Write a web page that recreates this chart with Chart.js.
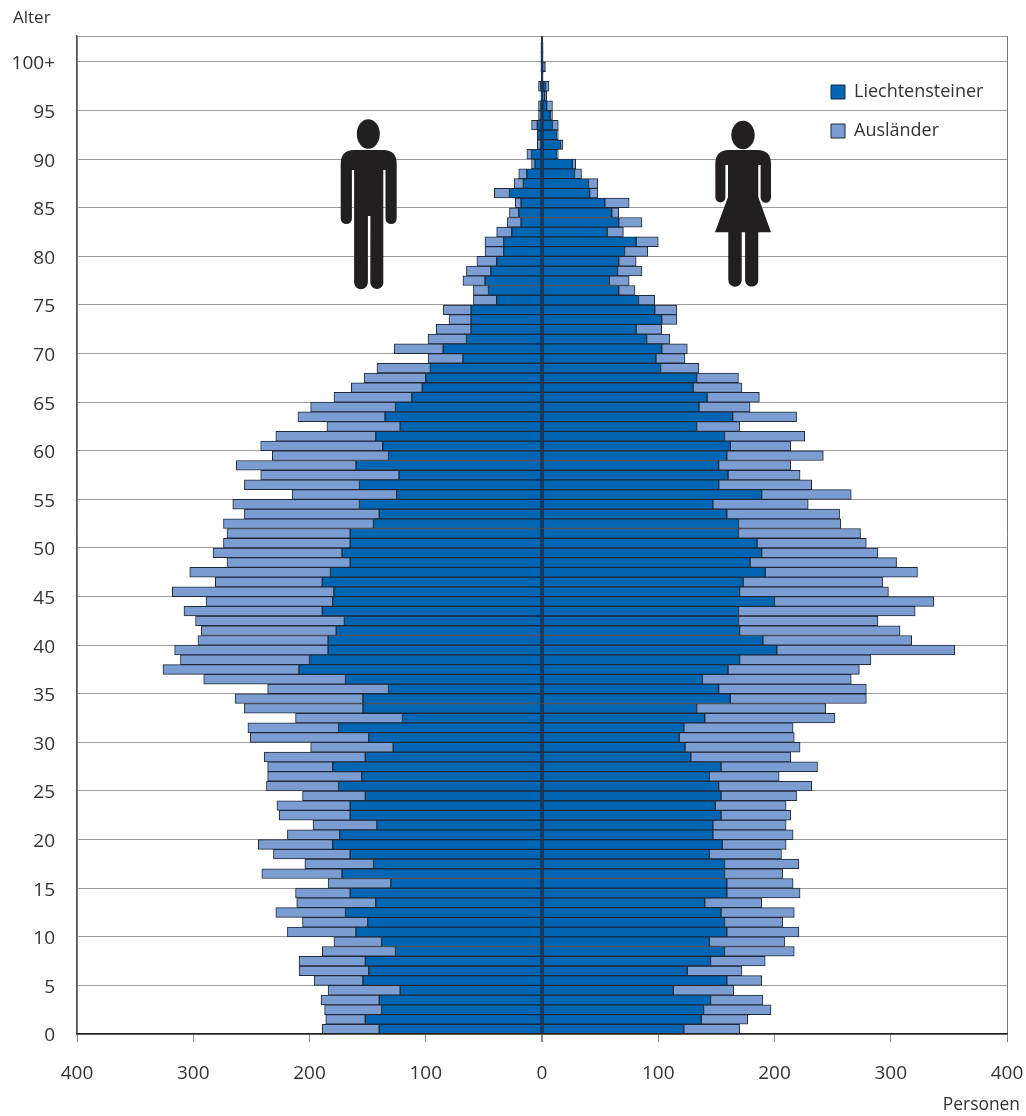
<!DOCTYPE html>
<html lang="de">
<head>
<meta charset="utf-8">
<title>Alterspyramide</title>
<script src="https://cdn.jsdelivr.net/npm/chart.js@4"></script>
<style>html,body{margin:0;padding:0;background:#fff}canvas{display:block}</style>
</head>
<body>
<canvas id="c" width="1026" height="1116"></canvas>
<script>
const seriesNames = ["Liechtensteiner", "Ausländer"];
const menLiechtensteiner = [140,152,138,140,122,154,149,152,126,138,160,150,169,143,165,130,172,145,165,180,174,142,165,165,152,175,155,180,152,128,149,175,120,154,154,132,169,209,200,184,184,177,170,189,180,179,189,182,165,172,165,165,145,140,157,125,157,123,160,132,137,143,122,135,126,112,103,100,96,68,85,65,61,61,61,39,46,49,44,39,33,33,26,18,20,18,28,16,13,6,9,1,4,4,1,1,1,1,0,1,1,1];
const menAuslaender = [49,34,49,50,62,42,60,57,63,41,59,56,60,68,47,54,69,59,66,64,45,55,61,63,54,62,81,56,87,71,102,78,92,102,110,104,122,117,111,132,112,116,128,119,109,139,92,121,106,111,109,106,129,116,109,90,99,119,103,100,105,86,63,75,73,67,61,53,46,30,42,33,30,19,24,20,13,19,21,17,16,16,13,12,8,5,13,8,7,3,4,3,0,5,2,2,0,2,0,0,0,0];
const womenLiechtensteiner = [122,137,139,145,113,159,125,145,157,144,159,157,154,140,159,159,157,157,144,155,147,147,154,149,154,152,144,154,128,123,118,122,140,133,162,152,138,160,170,202,190,170,169,169,200,170,173,192,179,189,185,169,169,159,147,189,152,160,152,159,162,157,133,164,135,142,130,133,102,98,103,90,81,103,97,83,66,58,65,66,71,81,56,66,60,54,41,40,28,26,13,16,13,9,7,4,2,3,1,2,1,1];
const womenAuslaender = [48,40,58,45,52,30,47,47,60,65,62,50,63,49,63,57,50,64,62,55,69,63,60,61,65,80,60,83,86,99,99,94,112,111,117,127,128,113,113,153,128,138,120,152,137,128,120,131,126,100,94,105,88,97,82,77,80,62,62,83,52,69,37,55,44,45,42,36,33,25,22,20,22,13,19,14,14,17,21,15,20,19,14,20,6,21,7,8,6,3,1,2,1,5,2,5,2,3,0,1,0,0];

const FONT = '"Open Sans", sans-serif';
const TEXT = '#333333';
const COL_CH = '#0066b3';
const COL_AUS = '#7b9dd2';
const EDGE = '#1f2a3a';

const toPoints = (vals, sign) => vals.map((v, age) => ({ x: sign * v, y: age + 0.5 }));
const ds = (label, vals, sign, color) => ({
  label, data: toPoints(vals, sign), backgroundColor: color, borderColor: EDGE,
  borderWidth: 1, borderSkipped: false, stack: 'pyramide',
  barPercentage: 1, categoryPercentage: 1
});

function man(ctx) {
  ctx.beginPath();
  ctx.ellipse(368.3, 134, 11.5, 14.7, 0, 0, Math.PI * 2);
  ctx.fill();
  ctx.beginPath();
  ctx.moveTo(340.7, 164);
  ctx.quadraticCurveTo(340.7, 150, 354, 150);
  ctx.lineTo(383.5, 150);
  ctx.quadraticCurveTo(396.7, 150, 396.7, 164);
  ctx.lineTo(396.7, 218.5);
  ctx.arc(391.1, 218.5, 5.6, 0, Math.PI);
  ctx.lineTo(385.5, 170);
  ctx.lineTo(383.3, 170);
  ctx.lineTo(383.3, 282.3);
  ctx.arc(376.9, 282.3, 6.6, 0, Math.PI);
  ctx.lineTo(370.4, 216);
  ctx.lineTo(367.9, 216);
  ctx.lineTo(367.9, 282.3);
  ctx.arc(361, 282.3, 6.9, 0, Math.PI);
  ctx.lineTo(354.1, 170);
  ctx.lineTo(351.9, 170);
  ctx.lineTo(351.9, 218.5);
  ctx.arc(346.3, 218.5, 5.6, 0, Math.PI);
  ctx.closePath();
  ctx.fill();
}
function woman(ctx) {
  ctx.beginPath();
  ctx.ellipse(743, 135, 11.7, 14.3, 0, 0, Math.PI * 2);
  ctx.fill();
  ctx.beginPath();
  ctx.moveTo(715.3, 164);
  ctx.quadraticCurveTo(715.3, 150, 729, 150);
  ctx.lineTo(757.5, 150);
  ctx.quadraticCurveTo(771, 150, 771, 164);
  ctx.lineTo(771, 197.5);
  ctx.arc(765.8, 197.5, 5.2, 0, Math.PI);
  ctx.lineTo(760.6, 165);
  ctx.lineTo(758.3, 165);
  ctx.lineTo(758.3, 197);
  ctx.lineTo(771, 232.3);
  ctx.lineTo(758.3, 232.3);
  ctx.lineTo(758.3, 280);
  ctx.arc(751.7, 280, 6.6, 0, Math.PI);
  ctx.lineTo(745.1, 232.3);
  ctx.lineTo(741.7, 232.3);
  ctx.lineTo(741.7, 280);
  ctx.arc(735, 280, 6.7, 0, Math.PI);
  ctx.lineTo(728.3, 232.3);
  ctx.lineTo(715, 232.3);
  ctx.lineTo(728, 197);
  ctx.lineTo(728, 165);
  ctx.lineTo(725.4, 165);
  ctx.lineTo(725.4, 197.5);
  ctx.arc(720.4, 197.5, 5, 0, Math.PI);
  ctx.closePath();
  ctx.fill();
}

const extras = {
  id: 'extras',
  afterLayout(chart) {
    const l = chart.legend;
    l.left = 810; l.right = 1000; l.top = 62;
  },
  beforeDraw(chart) {
    chart.scales.y.getLabelItems(chart.chartArea).forEach(item => { item.textOffset += 2; });
  },
  afterDatasetsDraw(chart) {
    const ctx = chart.ctx;
    ctx.save();
    ctx.fillStyle = '#231f20';
    man(ctx);
    woman(ctx);
    ctx.fillStyle = TEXT;
    ctx.font = '17.4px ' + FONT;
    ctx.textAlign = 'right';
    ctx.textBaseline = 'middle';
    ctx.fillText('Personen', 1020, 1105);
    ctx.restore();
  }
};

new Chart(document.getElementById('c'), {
  type: 'bar',
  data: {
    datasets: [
      ds(seriesNames[0], womenLiechtensteiner, 1, COL_CH),
      ds(seriesNames[1], womenAuslaender, 1, COL_AUS),
      ds(seriesNames[0], menLiechtensteiner, -1, COL_CH),
      ds(seriesNames[1], menAuslaender, -1, COL_AUS)
    ]
  },
  plugins: [extras],
  options: {
    indexAxis: 'y',
    responsive: false,
    animation: false,
    devicePixelRatio: 1,
    layout: { padding: { left: 13, right: 19, top: 0, bottom: 0 } },
    scales: {
      x: {
        type: 'linear', stacked: true, min: -400, max: 400,
        afterFit: s => { s.height = 82; s.paddingLeft = 0; s.paddingRight = 0; },
        ticks: { stepSize: 100, color: TEXT, font: { family: FONT, size: 19 }, padding: 20.5,
                 maxRotation: 0, callback: v => Math.abs(v) },
        border: { color: '#222222', width: 1.5, z: 1 },
        grid: {
          z: 1, offset: false, tickLength: 8, tickColor: '#888888',
          color: c => c.tick.value === 0 ? '#1d3557' : (Math.abs(c.tick.value) === 400 ? '#777777' : 'transparent'),
          lineWidth: c => c.tick.value === 0 ? 2 : 1
        }
      },
      y: {
        type: 'linear', min: 0, max: 102.67, offset: false,
        afterFit: s => { s.width = 64; s.paddingTop = 0; s.paddingBottom = 0; },
        ticks: { stepSize: 5, autoSkip: false, color: TEXT, font: { family: FONT, size: 19 }, padding: 22,
                 callback: v => v === 100 ? '100+' : (v % 5 === 0 ? String(v) : '') },
        border: { color: '#555555', width: 1.5 },
        grid: { offset: false, color: '#9a9a9a', lineWidth: 1, tickLength: 0 }
      }
    },
    plugins: {
      title: { display: true, text: 'Alter', align: 'start', color: TEXT,
               font: { family: FONT, size: 17, weight: 'normal' }, padding: { top: 8, bottom: 7.6 } },
      legend: {
        display: true, position: 'chartArea', align: 'start',
        labels: { boxWidth: 14, boxHeight: 14, padding: 21, color: TEXT,
                  font: { family: FONT, size: 18 },
                  filter: item => item.datasetIndex < 2 }
      },
      tooltip: { enabled: false }
    }
  }
});
</script>
</body>
</html>
